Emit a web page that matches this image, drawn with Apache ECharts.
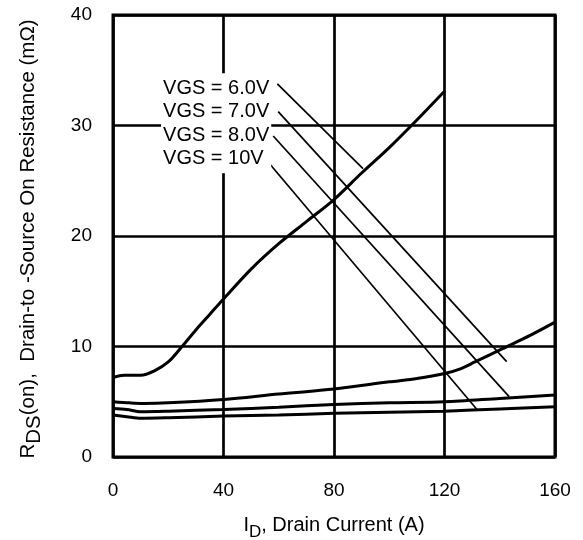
<!DOCTYPE html>
<html>
<head>
<meta charset="utf-8">
<script src="https://cdn.jsdelivr.net/npm/echarts@6/dist/echarts.min.js"></script>
<style>
html,body{margin:0;padding:0;background:#fff;}
#chart{width:583px;height:540px;}
</style>
</head>
<body>
<div id="chart"></div>
<script>
// drain current (A) and on resistance (mOhm)
var idVgs6 = [0, 4, 10, 15, 20, 25, 30, 35, 40, 50, 60, 70, 80, 90, 100, 110, 120];
var rdsVgs6 = [7.2, 7.4, 7.4, 7.8, 8.6, 10.0, 11.5, 12.9, 14.3, 17.0, 19.3, 21.3, 23.3, 25.7, 28.0, 30.5, 33.1];

var idVgs7 = [0, 6, 11, 20, 40, 60, 80, 100, 110, 120, 126, 131, 141, 151, 160];
var rdsVgs7 = [5.0, 4.9, 4.85, 4.9, 5.2, 5.7, 6.15, 6.8, 7.1, 7.55, 8.0, 8.6, 9.8, 11.0, 12.2];

var idVgs8 = [0, 5, 10, 20, 40, 60, 80, 100, 120, 140, 160];
var rdsVgs8 = [4.4, 4.3, 4.1, 4.15, 4.3, 4.5, 4.75, 4.9, 5.0, 5.3, 5.6];

var idVgs10 = [0, 5, 10, 20, 40, 60, 80, 100, 120, 140, 160];
var rdsVgs10 = [3.8, 3.65, 3.5, 3.55, 3.7, 3.8, 3.95, 4.05, 4.15, 4.35, 4.55];

var xTicks = [0, 40, 80, 120, 160];
var yTicks = [0, 10, 20, 30, 40];

var vgsLabels = ['VGS = 6.0V', 'VGS = 7.0V', 'VGS = 8.0V', 'VGS = 10V'];
// leader lines from the labels to each curve: [x0, y0, x1, y1] in data units
var leader6 = [59.5, 33.76, 90.5, 26.1];
var leader7 = [59.8, 31.25, 142.5, 8.63];
var leader8 = [58.0, 29.05, 143.4, 5.46];
var leader10 = [55.0, 27.03, 131.6, 4.34];
var labelAnchor = [17.4, 30.2];

var font = 'Liberation Sans, Arial, Helvetica, sans-serif';

function pairs(xs, ys) {
	var out = [];
	for (var i = 0; i < xs.length; i++) out.push([xs[i], ys[i]]);
	return out;
}

function leader(l) {
	return {
		symbol: ['none', 'none'],
		silent: true,
		animation: false,
		label: {show: false},
		lineStyle: {color: '#000', width: 1.7, type: 'solid'},
		emphasis: {disabled: true},
		data: [[{coord: [l[0], l[1]]}, {coord: [l[2], l[3]]}]]
	};
}

function curve(name, xs, ys, l) {
	return {
		name: name,
		type: 'line',
		data: pairs(xs, ys),
		smooth: 0.3,
		symbol: 'none',
		silent: true,
		lineStyle: {color: '#000', width: 3},
		markLine: leader(l)
	};
}

var series = [
	curve('6.0V', idVgs6, rdsVgs6, leader6),
	curve('7.0V', idVgs7, rdsVgs7, leader7),
	curve('8.0V', idVgs8, rdsVgs8, leader8),
	curve('10V', idVgs10, rdsVgs10, leader10)
];

series[0].markPoint = {
	symbol: 'circle',
	symbolSize: 0,
	silent: true,
	data: [{coord: labelAnchor}],
	label: {
		show: true,
		position: 'right',
		distance: 0,
		formatter: vgsLabels.join('\n'),
		color: '#000',
		fontFamily: font,
		fontSize: 20,
		lineHeight: 23.5,
		align: 'left',
		backgroundColor: '#fff',
		padding: [3, 2, 3, 2]
	}
};

var myChart = echarts.init(document.getElementById('chart'));
var option = {
	animation: false,
	backgroundColor: '#fff',
	grid: {
		left: 113,
		right: 28,
		top: 15,
		bottom: 83,
		outerBoundsMode: 'none',
		show: true,
		borderColor: '#000',
		borderWidth: 3
	},
	xAxis: {
		type: 'value',
		min: xTicks[0],
		max: xTicks[xTicks.length - 1],
		interval: xTicks[1] - xTicks[0],
		name: '{n|I}{s|D}{n|, Drain Current (A)}',
		nameLocation: 'middle',
		nameGap: 53,
		nameTextStyle: {
			rich: {
				n: {fontSize: 20, fontFamily: font, color: '#000'},
				s: {fontSize: 17, fontFamily: font, color: '#000', padding: [14, 0, 0, 0]}
			}
		},
		axisLine: {show: false},
		axisTick: {show: false},
		axisLabel: {color: '#000', fontSize: 19, fontFamily: font, margin: 24},
		splitLine: {lineStyle: {color: '#000', width: 2.7}}
	},
	yAxis: {
		type: 'value',
		min: yTicks[0],
		max: yTicks[yTicks.length - 1],
		interval: yTicks[1] - yTicks[0],
		name: '{n|R}{s|DS}{n|(on),  Drain-to -Source On Resistance (mΩ)}',
		nameLocation: 'middle',
		nameGap: 68,
		nameTextStyle: {
			padding: [0, 6, 0, 0],
			rich: {
				n: {fontSize: 20.5, fontFamily: font, color: '#000'},
				s: {fontSize: 20.5, fontFamily: font, color: '#000', padding: [13, 0, 0, 0]}
			}
		},
		axisLine: {show: false},
		axisTick: {show: false},
		axisLabel: {color: '#000', fontSize: 19, fontFamily: font, margin: 21, padding: [4, 0, 0, 0]},
		splitLine: {lineStyle: {color: '#000', width: 2.7}}
	},
	series: series
};
myChart.setOption(option);
</script>
</body>
</html>
